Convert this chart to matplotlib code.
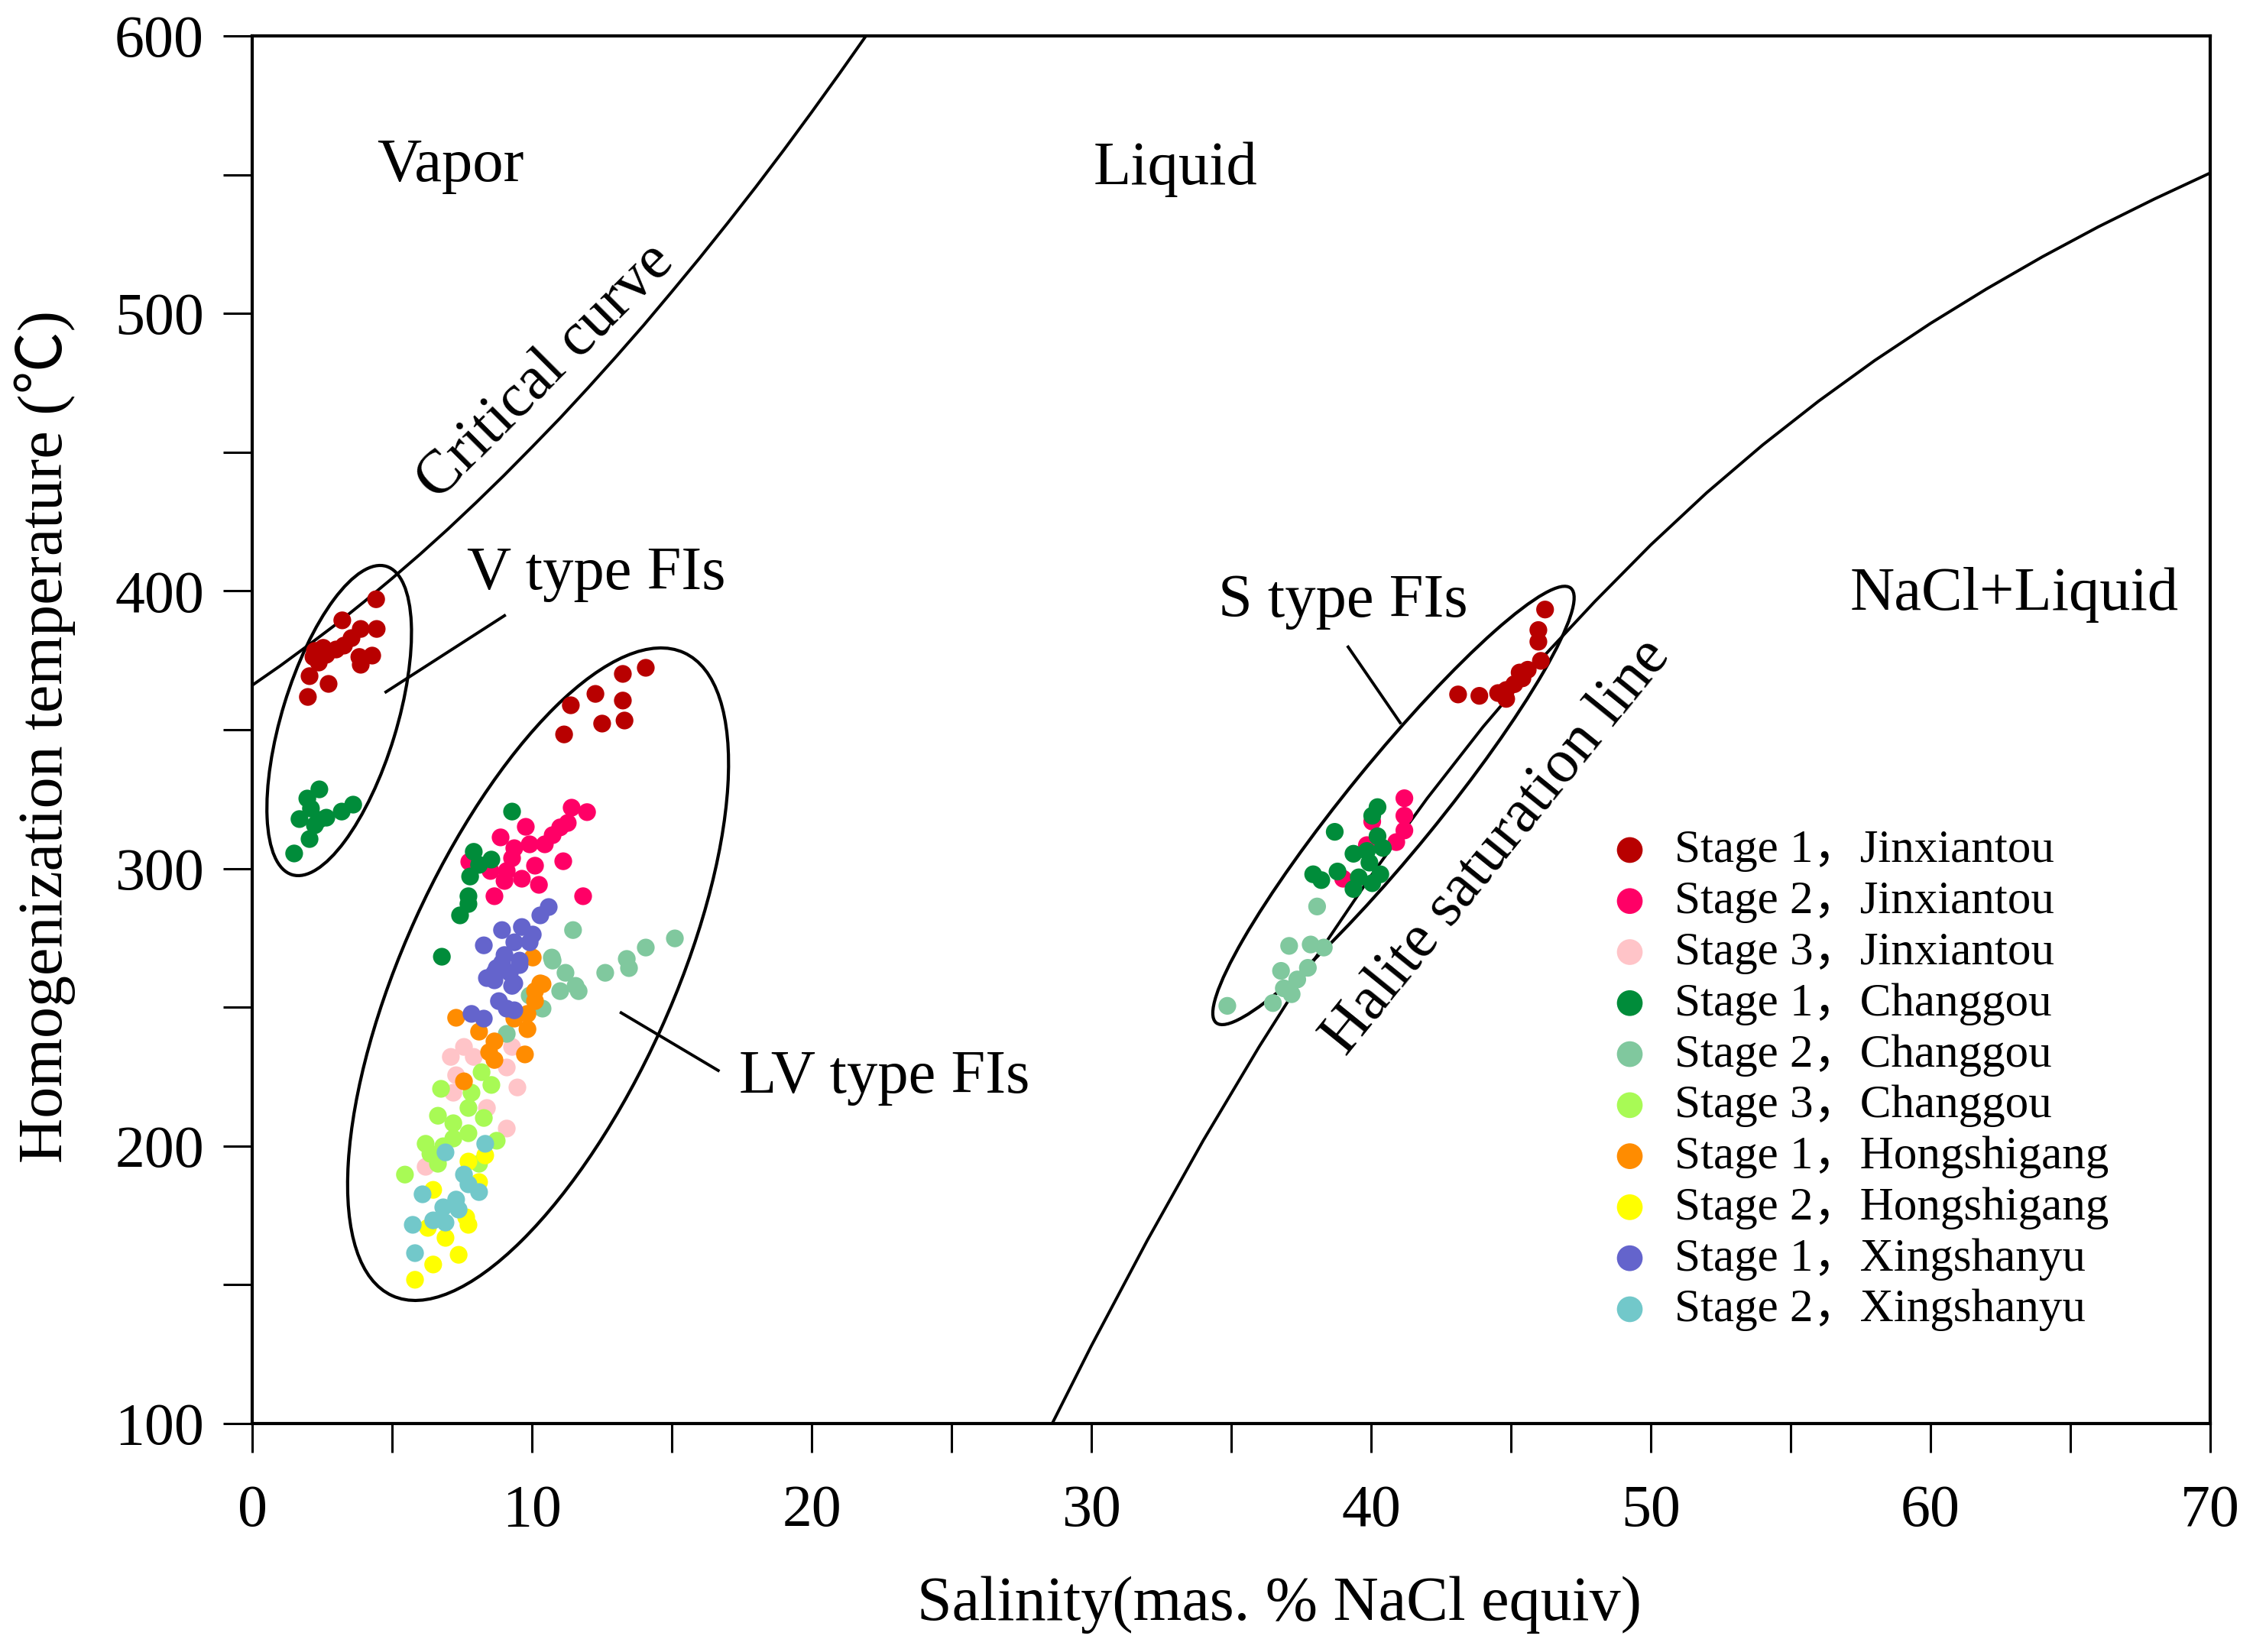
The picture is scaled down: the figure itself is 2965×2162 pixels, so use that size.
import numpy as np
import matplotlib
matplotlib.use("Agg")
import matplotlib.pyplot as plt
from matplotlib.patches import Ellipse
from matplotlib.transforms import ScaledTranslation

plt.rcParams['font.family'] = ['Liberation Serif', 'Noto Sans CJK SC']

# fluid inclusion data: salinity (wt% NaCl eq) and Th (C)
j1_x = [4.43, 3.22, 4.45, 3.88, 3.55, 2.24, 2.65, 3.0, 3.28, 3.83, 4.29, 3.88, 2.38, 2.05, 2.73, 1.99, 2.19, 2.54,
        14.07, 13.25, 12.27, 13.25, 11.39, 12.51, 13.31, 11.15,
        46.22, 45.98, 45.98, 46.07, 45.60, 45.41, 45.12, 44.83, 44.54, 44.83, 43.87, 43.11, 45.31]
j1_y = [397, 389.4, 386.3, 386.3, 383, 378.4, 377, 378.9, 380.3, 376.2, 376.7, 373.4, 374.2, 369.3, 366.5, 361.8, 376.2, 379.5,
        372.3, 370.1, 362.9, 360.5, 358.8, 352.2, 353.3, 348.3,
        393.3, 385.9, 381.7, 374.8, 371.6, 368.5, 366.4, 364.3, 363.2, 361.1, 362.2, 362.7, 370.6]

j2_x = [11.42, 11.97, 9.78, 8.88, 11.01, 10.74, 10.46, 9.92, 11.12, 9.29, 10.11, 9.10, 9.64, 10.25, 9.02, 8.66, 11.83,
        7.76, 8.52, 9.37, 11.28,
        41.19, 41.19, 41.19, 40.90, 40.04, 39.85, 39.0]
j2_y = [321.9, 320.3, 315, 311.2, 314.8, 312, 308.7, 308.7, 302.6, 303.7, 301, 299.1, 296.3, 294.1, 295.5, 290, 290,
        302.4, 299.1, 307.3, 316.4,
        325.3, 319, 313.7, 309.5, 316.9, 308.4, 296.3]

j3_x = [7.57, 7.10, 9.29, 9.10, 9.48, 7.29, 7.19, 8.39, 9.10, 6.20, 7.92]
j3_y = [235.7, 232.1, 235.7, 228.3, 221.1, 225.5, 219.2, 213.7, 206.3, 192.5, 232.1]

c1_x = [2.40, 1.97, 2.10, 1.69, 2.38, 2.65, 3.20, 3.61, 2.05, 1.50, 2.24,
        9.29, 7.92, 8.55, 7.79, 7.73, 7.43, 8.11, 7.73, 6.78,
        40.23, 40.04, 38.70, 40.23, 40.42, 39.37, 39.94, 38.80, 37.93, 38.22, 39.56, 40.04, 39.37, 40.33, 39.85]
c1_y = [328.5, 325.2, 321.6, 317.8, 317.5, 318.3, 320.5, 323, 310.6, 305.4, 315.6,
        320.5, 306, 303.2, 297.1, 290, 283.1, 301.3, 287.2, 268.2,
        322.1, 319, 313.2, 311.6, 307.4, 305.3, 302.1, 298.9, 297.9, 295.8, 296.8, 294.7, 292.6, 297.9, 306.3]

c2_x = [11.47, 15.11, 14.07, 13.39, 13.47, 12.62, 10.71, 11.20, 11.56, 10.74, 11.67, 11.01, 10.38, 9.10, 9.92,
        38.07, 37.07, 37.84, 38.31, 36.78, 37.74, 37.36, 36.88, 36.49, 34.86, 37.16]
c2_y = [277.8, 274.8, 271.5, 267.4, 264.1, 262.4, 267.9, 262.4, 257.7, 266.8, 255.8, 255.8, 249.5, 240.4, 254.2,
        286.3, 272.1, 272.6, 271.5, 263.1, 264.2, 260, 256.8, 251.5, 250.5, 254.7]

c3_x = [8.20, 8.55, 6.75, 7.84, 7.73, 6.64, 8.28, 7.19, 7.73, 6.20, 6.83, 8.74, 6.37, 6.64, 8.11, 5.46, 7.19]
c3_y = [226.6, 222, 220.6, 219.2, 213.7, 210.9, 210.1, 208.2, 204.6, 200.8, 199.9, 201.9, 197.2, 193.6, 193.6, 189.7, 202.7]

h1_x = [10.03, 10.38, 10.30, 10.11, 9.84, 7.29, 8.11, 8.66, 8.47, 9.84, 9.75, 8.66, 7.57, 10.11, 9.37]
h1_y = [267.9, 258.3, 258.6, 252.2, 247.6, 246.2, 241.2, 237.7, 233.8, 242.1, 233, 231, 223.3, 255.8, 245.9]

h2_x = [7.73, 8.33, 6.47, 8.11, 7.65, 7.73, 6.28, 6.91, 7.38, 6.47, 5.82]
h2_y = [194.4, 196.6, 184.2, 187, 174.3, 171.6, 170.5, 166.9, 160.8, 157.3, 151.8]

x1_x = [10.60, 10.30, 8.93, 9.64, 10.03, 8.28, 9.37, 9.92, 9.02, 9.56, 8.39, 9.21, 8.74, 9.37, 8.93, 9.56, 8.66,
        9.29, 8.82, 9.10, 7.84, 8.28, 9.37, 8.66]
x1_y = [286.1, 283.1, 277.8, 278.9, 276.2, 272.3, 273.4, 273.4, 268.8, 266.8, 260.5, 262.4, 264.1, 258.6, 266, 265.2,
        259.7, 257.7, 252.2, 249.5, 247.6, 245.9, 248.9, 262.4]

x2_x = [8.33, 6.91, 7.57, 7.73, 8.11, 6.09, 7.29, 6.83, 6.47, 5.74, 6.91, 7.38, 5.82]
x2_y = [200.8, 197.7, 189.7, 186.2, 183.4, 182.6, 180.7, 177.9, 173.2, 171.6, 172.4, 177.1, 161.4]

labels = ['Stage 1，Jinxiantou', 'Stage 2，Jinxiantou', 'Stage 3，Jinxiantou',
          'Stage 1，Changgou', 'Stage 2，Changgou', 'Stage 3，Changgou',
          'Stage 1，Hongshigang', 'Stage 2，Hongshigang',
          'Stage 1，Xingshanyu', 'Stage 2，Xingshanyu']
colors = ['#B80000', '#FF0066', '#FFC4C8', '#008C3A', '#80C89E', '#A8FA55',
          '#FF8C00', '#FFFF00', '#6464CC', '#72C8CA']

# phase boundaries
crit_x = [0, 1, 2, 3, 4, 5, 6, 7, 8, 9, 10, 11, 12, 13, 14, 15, 16, 17, 18, 19, 20, 21, 22]
crit_y = [366, 373, 380.4, 388, 396.1, 404.5, 413.2, 422.3, 431.8, 441.6, 451.8, 462.2, 473.1, 484.3, 495.8,
          507.8, 520, 532.6, 545.5, 558.8, 572.5, 586.5, 600.8]
halite_x = [28.6, 30, 32, 34, 36, 38, 40, 42, 44, 46, 48, 50, 52, 54, 56, 58, 60, 62, 64, 66, 68, 70]
halite_y = [100, 128, 166, 202, 235.8, 267.6, 297.4, 325.2, 351, 374.6, 396.2, 416.6, 435.4, 452.6, 468.4,
            483, 496.4, 508.8, 520.4, 531.2, 541.2, 550.6]

fig = plt.figure(figsize=(14.825, 10.81), dpi=200)
ax = fig.add_axes([0.1113, 0.1383, 0.8641, 0.8400])

series = [(j1_x, j1_y), (j2_x, j2_y), (j3_x, j3_y), (c1_x, c1_y), (c2_x, c2_y), (c3_x, c3_y),
          (h1_x, h1_y), (h2_x, h2_y), (x1_x, x1_y), (x2_x, x2_y)]
for (xs, ys), c, lab in zip(series, colors, labels):
    ax.scatter(xs, ys, s=70, color=c, edgecolors='none', label=lab, zorder=3)

ax.plot(crit_x, crit_y, color='k', lw=1.4)
ax.plot(halite_x, halite_y, color='k', lw=1.4)


def ring(cx, cy, a, b, ang):
    # size given in pixels, centre in data units
    tr = fig.dpi_scale_trans + ScaledTranslation(cx, cy, ax.transData)
    e = Ellipse((0, 0), 2 * a / fig.dpi, 2 * b / fig.dpi, angle=ang, transform=tr,
                fill=False, lw=1.5, edgecolor='k', zorder=2)
    ax.add_patch(e)


ring(3.11, 353.3, 211, 75, 73)
ring(10.22, 261.9, 462, 176, 65.6)
ring(40.80, 322.7, 367, 59, 50.8)

# leader lines
ax.plot([4.78, 9.02], [363.6, 391.1], color='k', lw=1.4)
ax.plot([13.19, 16.66], [248, 227.2], color='k', lw=1.4)
ax.plot([39.18, 41.04], [379.8, 352.5], color='k', lw=1.4)

fs = 29
ax.text(7.1, 553, 'Vapor', fontsize=fs, ha='center', va='center')
ax.text(33.0, 552, 'Liquid', fontsize=fs, ha='center', va='center')
ax.text(63.0, 398.5, 'NaCl+Liquid', fontsize=fs, ha='center', va='center')
ax.text(12.3, 406, 'V type FIs', fontsize=fs, ha='center', va='center')
ax.text(22.6, 224.6, 'LV type FIs', fontsize=fs, ha='center', va='center')
ax.text(39.0, 396, 'S type FIs', fontsize=fs, ha='center', va='center')
ax.text(10.5, 479, 'Critical curve', fontsize=fs, ha='center', va='center', rotation=45)
ax.text(44.5, 307.7, 'Halite saturation line', fontsize=fs, ha='center', va='center', rotation=51)

ax.set_xlim(0, 70)
ax.set_ylim(100, 600)
ax.set_xticks(np.arange(0, 71, 10))
ax.set_xticks(np.arange(5, 70, 10), minor=True)
ax.set_yticks(np.arange(100, 601, 100))
ax.set_yticks(np.arange(150, 600, 100), minor=True)
ax.tick_params(which='both', direction='out', length=13.7, width=1.1, top=False, right=False)
ax.tick_params(axis='x', labelsize=28, pad=15)
ax.tick_params(axis='y', labelsize=28, pad=9)
for sp in ax.spines.values():
    sp.set_linewidth(1.5)

ax.set_xlabel('Salinity(mas. % NaCl equiv)', fontsize=29.5)
ax.set_ylabel('Homogenization temperature (℃)', fontsize=29.5)
ax.xaxis.set_label_coords(0.5246, -0.110)
ax.yaxis.set_label_coords(-0.090, 0.495)

ax.legend(loc='upper left', bbox_to_anchor=(0.694, 0.428), frameon=False, fontsize=22,
          markerscale=1.45, handlelength=0.8, handletextpad=0.55, labelspacing=0.18,
          borderpad=0, borderaxespad=0)

fig.savefig('out.png', dpi=200)
